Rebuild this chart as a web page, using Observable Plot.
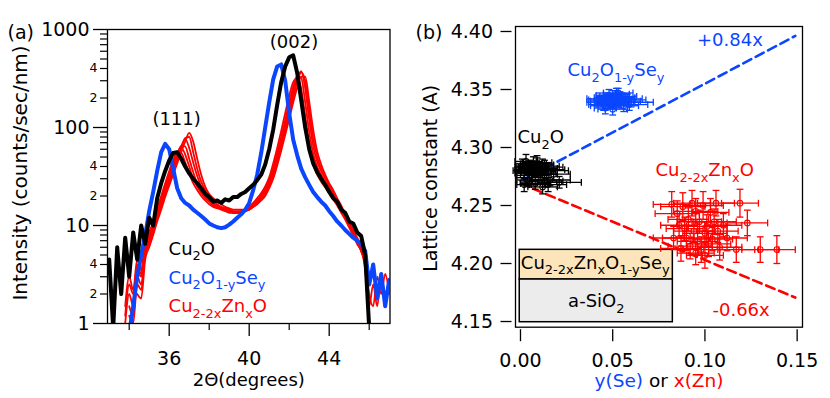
<!DOCTYPE html>
<html><head><meta charset="utf-8">
<script src="https://cdn.jsdelivr.net/npm/d3@7"></script>
<script src="https://cdn.jsdelivr.net/npm/@observablehq/plot@0.6"></script>
<style>
html,body{margin:0;padding:0;background:#fff;}
#wrap{position:relative;width:830px;height:398px;overflow:hidden;}
#pa{position:absolute;left:0;top:0;}
#pb{position:absolute;left:410px;top:0;}
</style></head><body>
<div id="wrap"><div id="pa"></div><div id="pb"></div></div>
<script>
// ---------- Panel (a): XRD scans ----------
const twoTheta = [33.0,33.2,33.4,33.6,33.8,34.0,34.2,34.4,34.6,34.8,35.0,35.2,35.4,35.6,35.8,36.0,36.2,36.4,36.6,36.8,37.0,37.2,37.4,37.6,37.8,38.0,38.2,38.4,38.6,38.8,39.0,39.2,39.4,39.6,39.8,40.0,40.2,40.4,40.6,40.8,41.0,41.2,41.4,41.6,41.8,42.0,42.2,42.4,42.6,42.8,43.0,43.2,43.4,43.6,43.8,44.0,44.2,44.4,44.6,44.8,45.0,45.2,45.4,45.6,45.8,46.0,46.2,46.4,46.6,46.8,47.0];
const cu2oScan = [4.5,0.9,6,2,7.5,3,8.5,4.5,10,6.5,12,10,19,27,36,46,55,56,48,40,34,30,27,24,21,19.5,17.5,18,17,18.5,18,19.5,19.5,21,22,24,26,29,33,42,60,95,170,290,420,520,545,360,190,100,60,43,35,30,26,22,19,17.5,14.5,13.5,11,10.5,8.5,7.8,5,0.9,null,null,null,null,null];
const seScan = [null,null,null,null,null,0.8,1.5,3,5,8,14,22,36,56,68,60,38,24,19,17,16,14.5,13.5,12.5,11.5,10.5,10,9.6,9.4,9.6,10.2,11,12,13,14.5,17,23,33,55,100,180,310,420,440,300,140,75,52,38,31,26,22,19.5,17.5,16,14,12.5,11,10,9,8.2,7.5,7,6.5,5.5,2.5,4,1.8,3.2,1.5,2.8];
const znScan1 = [null,null,null,null,1.5,3,2.2,4.5,3.5,7,8.5,11,15,20,27,36,47,56,55,44,34,27,23,20,18,16.5,15.5,15,14.5,14,13.5,13.5,13.5,14,14.5,15.5,17,19,21.5,25,31,43,62,92,140,210,290,320,200,100,58,42,33,28,24.5,21.5,18.5,16,13.5,11.5,9.5,8,6.5,5.5,3.5,0.8,null,null,null,null,null];
const znScan2 = [null,null,null,null,1.2,2.5,2,4,3.2,6.5,8,10,14,18.5,25,33,44,55,62,53,40,30,25,21.5,19,17.5,16,15.5,15,14.5,14,13.5,13.5,13.5,14,15,16.5,18,20.5,23.5,29,39,55,80,120,180,260,335,250,130,70,46,35,30,26,22.5,19.5,16.5,14,12,10,8.5,7,5.5,4,1.2,null,null,null,null,null];
const znScan3 = [null,null,null,null,1,2,1.5,3.5,3,6,7.5,9.5,13,17.5,23.5,31,41,53,65,64,48,35,27,23,20,18,16.5,15.5,15,14.5,14,13.5,13.5,13.5,14,15,16,17.5,20,22.5,27.5,36,51,73,108,160,240,330,320,180,90,54,40,33,27.5,23.5,20,17,14.5,12,10,8.5,7,5.5,4,1.5,2.5,1.5,3,2,2.8];
const znScan4 = [null,null,null,null,null,1.5,1.2,3,2.5,5.5,7,9,12,16.5,22,29,38,50,64,76,62,44,32,25,21,18.5,17,16,15,14.5,14,13.5,13.5,13.5,14,14.5,15.5,17,19,21.5,26,34,47,68,100,148,220,315,375,250,120,65,45,36,30,25,21,17.5,14.5,12,10,8,6.5,5.5,4,1,null,null,null,null,null];
const znScan5 = [null,null,null,null,null,1.2,1,2.5,2.2,5,6.5,8.5,11.5,15.5,21,27.5,36,47,61,78,80,56,38,28,23,20,18,16.5,15.5,15,14.5,14,14,14,14,14.5,15.5,17,18.5,21,25,32,44,63,92,135,200,290,365,300,150,78,50,38,31,26,22,18,15,12.5,10.5,8.5,7,5.8,4.2,1.2,null,null,null,null,null];
const znScan6 = [null,null,null,null,null,null,null,2,1.8,4.5,6,8,11,14.5,19.5,25.5,33,43,56,72,88,72,48,33,25,21,19,17.5,16.5,15.5,15,14.5,14.5,14.5,14.5,15,15.5,16.5,18,20,24,30,41,58,84,122,180,255,330,330,185,95,57,42,33,27,23,19,16,13,11,9,7.5,6,4.5,2,1.5,3,2,3.2,2];

const yMajorTicks = [1,10,100,1000];
const yMinorTicks = [2,3,4,5,6,7,8,9,20,30,40,50,60,70,80,90,200,300,400,500,600,700,800,900];
const yMinorLabeled = [2,4,20,40,200,400];
const xMajorTicks = [36,40,44];
const xMinorTicks = [34,38,42,46];

// ---------- Panel (b): lattice constants ----------
const cu2oX = [0.001,0.002,0.003,0.004,0.005,0.006,0.007,0.008,0.009,0.010,0.011,0.012,0.013,0.014,0.015,0.016,0.018,0.002,0.021,0.012,0.000,0.003,0.005,0.007,0.009,0.011,0.013,0.004,0.008,0.015];
const cu2oY = [4.284,4.278,4.288,4.281,4.283,4.276,4.286,4.280,4.287,4.282,4.279,4.284,4.271,4.281,4.268,4.272,4.277,4.268,4.270,4.266,4.280,4.283,4.279,4.282,4.285,4.277,4.283,4.272,4.269,4.280];
const cu2oXErr = [0.003,0.005,0.006,0.007,0.006,0.008,0.007,0.009,0.008,0.010,0.008,0.009,0.010,0.010,0.010,0.011,0.009,0.004,0.012,0.008,0.004,0.006,0.007,0.008,0.009,0.009,0.010,0.006,0.008,0.011];
const cu2oYErr = [0.006,0.005,0.006,0.005,0.006,0.005,0.006,0.005,0.006,0.006,0.005,0.006,0.005,0.005,0.006,0.005,0.005,0.006,0.005,0.006,0.006,0.005,0.006,0.005,0.006,0.005,0.006,0.005,0.005,0.006];

const seX = [0.042,0.044,0.045,0.046,0.047,0.048,0.049,0.050,0.051,0.052,0.053,0.054,0.055,0.056,0.058,0.060,0.043,0.046,0.048,0.050,0.052,0.054,0.056,0.057,0.059,0.045,0.050,0.053];
const seY = [4.339,4.341,4.337,4.334,4.343,4.340,4.338,4.344,4.341,4.346,4.342,4.339,4.343,4.340,4.341,4.339,4.342,4.336,4.345,4.338,4.340,4.344,4.336,4.342,4.337,4.340,4.333,4.347];
const seXErr = [0.006,0.007,0.008,0.006,0.007,0.008,0.007,0.009,0.008,0.007,0.009,0.008,0.007,0.009,0.010,0.012,0.007,0.008,0.007,0.009,0.008,0.009,0.008,0.009,0.010,0.007,0.008,0.008];
const seYErr = [0.004,0.004,0.005,0.005,0.004,0.005,0.004,0.005,0.004,0.005,0.004,0.005,0.004,0.004,0.005,0.004,0.005,0.004,0.005,0.004,0.005,0.004,0.005,0.004,0.005,0.004,0.005,0.004];

const znX = [0.082,0.083,0.085,0.086,0.087,0.088,0.089,0.090,0.091,0.092,0.093,0.094,0.095,0.095,0.096,0.097,0.098,0.099,0.100,0.100,0.101,0.102,0.103,0.104,0.105,0.106,0.107,0.108,0.110,0.112,0.117,0.119,0.123,0.130,0.139];
const znY = [4.251,4.222,4.243,4.233,4.213,4.249,4.230,4.222,4.238,4.215,4.252,4.228,4.245,4.209,4.219,4.236,4.212,4.250,4.226,4.207,4.232,4.217,4.244,4.221,4.236,4.252,4.228,4.214,4.233,4.222,4.212,4.252,4.235,4.212,4.212];
const znXErr = [0.010,0.011,0.012,0.010,0.011,0.012,0.010,0.013,0.011,0.012,0.010,0.011,0.012,0.010,0.011,0.012,0.010,0.011,0.012,0.010,0.011,0.012,0.010,0.011,0.012,0.010,0.011,0.012,0.010,0.011,0.010,0.010,0.011,0.010,0.010];
const znYErr = [0.011,0.010,0.011,0.010,0.011,0.012,0.010,0.011,0.010,0.011,0.011,0.010,0.011,0.010,0.011,0.010,0.011,0.012,0.010,0.011,0.010,0.011,0.012,0.010,0.011,0.011,0.010,0.011,0.010,0.011,0.011,0.012,0.011,0.011,0.012];

const seSlope = 0.84, seIntercept = 4.271;
const znSlope = -0.66, znIntercept = 4.269;
const fitRangeX = [0, 0.149];

const yTicksB = [4.15,4.20,4.25,4.30,4.35,4.40];
const xTicksB = [0.00,0.05,0.10,0.15];

// ---------- styling ----------
const BLUE = "#0b46ff", RED = "#ff0000", BLACK = "#000000";
const FONT = "DejaVu Sans";

// ---------- build tables ----------
const scanRows = (vals, name) => twoTheta.map((t, i) => ({t, v: vals[i], s: name}));
const redRows = [znScan1, znScan2, znScan3, znScan4, znScan5, znScan6].flatMap((v, k) => scanRows(v, "zn" + k));
const blueRows = scanRows(seScan, "se");
const blackRows = scanRows(cu2oScan, "cu2o");

const pts = (X, Y, XE, YE) => X.map((x, i) => ({x, y: Y[i], xe: XE[i], ye: YE[i]}));
const cu2oPts = pts(cu2oX, cu2oY, cu2oXErr, cu2oYErr);
const sePts = pts(seX, seY, seXErr, seYErr);
const znPts = pts(znX, znY, znXErr, znYErr);
const seFit = fitRangeX.map(x => ({x, y: seIntercept + seSlope * x}));
const znFit = fitRangeX.map(x => ({x, y: znIntercept + znSlope * x}));

const capV = {draw(ctx){ ctx.moveTo(0, -3.4); ctx.lineTo(0, 3.4); }};
const capH = {draw(ctx){ ctx.moveTo(-3.4, 0); ctx.lineTo(3.4, 0); }};

function errMarks(data, color) {
  return [
    Plot.link(data, {x1: d => d.x - d.xe, x2: d => d.x + d.xe, y1: "y", y2: "y", stroke: color, strokeWidth: 1.3}),
    Plot.link(data, {x1: "x", x2: "x", y1: d => d.y - d.ye, y2: d => d.y + d.ye, stroke: color, strokeWidth: 1.3}),
    Plot.dot(data, {x: d => d.x - d.xe, y: "y", symbol: capV, stroke: color, strokeWidth: 1.3}),
    Plot.dot(data, {x: d => d.x + d.xe, y: "y", symbol: capV, stroke: color, strokeWidth: 1.3}),
    Plot.dot(data, {x: "x", y: d => d.y - d.ye, symbol: capH, stroke: color, strokeWidth: 1.3}),
    Plot.dot(data, {x: "x", y: d => d.y + d.ye, symbol: capH, stroke: color, strokeWidth: 1.3}),
    Plot.dot(data, {x: "x", y: "y", r: 2.8, stroke: color, strokeWidth: 1.1, fill: "none"})
  ];
}

// annotations
const peakLabels = [
  {text: "(111)", x: 36.37, y: 122},
  {text: "(002)", x: 42.24, y: 734}
];
const legendA = [
  {text: "Cu_{2}O", x: 35.97, y: 5.72, c: BLACK},
  {text: "Cu_{2}O_{1-y}Se_{y}", x: 35.97, y: 2.91, c: BLUE},
  {text: "Cu_{2-2x}Zn_{x}O", x: 35.97, y: 1.49, c: RED}
];
const annB = [
  {text: "+0.84x", x: 0.0957, y: 4.3922, c: BLUE},
  {text: "Cu_{2}O_{1-y}Se_{y}", x: 0.0255, y: 4.3664, c: BLUE},
  {text: "Cu_{2}O", x: -0.0016, y: 4.3086, c: BLACK},
  {text: "Cu_{2-2x}Zn_{x}O", x: 0.0732, y: 4.2802, c: RED},
  {text: "-0.66x", x: 0.1041, y: 4.1595, c: RED}
];
const insetBoxes = [
  {x1: -0.0004, x2: 0.0826, y1: 4.1862, y2: 4.2118, fill: "#fce5bb"},
  {x1: -0.0004, x2: 0.0826, y1: 4.1494, y2: 4.1862, fill: "#ececec"}
];

const styleObj = {fontFamily: FONT, background: "transparent", color: "black", overflow: "visible"};

const chartA = Plot.plot({
  width: 415, height: 398,
  marginLeft: 107, marginRight: 25.5, marginTop: 29, marginBottom: 75,
  x: {domain: [32.915, 47.04], label: null},
  y: {type: "log", domain: [1, 1000], label: null},
  style: styleObj,
  marks: [
    Plot.line(redRows, {x: "t", y: "v", z: "s", stroke: RED, strokeWidth: 1.8, curve: "monotone-x", clip: true}),
    Plot.line(blueRows, {x: "t", y: "v", stroke: BLUE, strokeWidth: 4, curve: "linear", strokeLinejoin: "round", clip: true}),
    Plot.line(blackRows, {x: "t", y: "v", stroke: BLACK, strokeWidth: 4, curve: "linear", strokeLinejoin: "round", clip: true}),
    Plot.text(peakLabels, {x: "x", y: "y", text: "text", textAnchor: "middle", lineAnchor: "middle", fontSize: 18}),
    Plot.text(legendA, {x: "x", y: "y", text: "text", fill: "c", textAnchor: "start", lineAnchor: "middle", fontSize: 18}),
    Plot.frame({stroke: "#000", strokeWidth: 1.3}),
    Plot.axisY({ticks: yMajorTicks, tickSize: 14, tickPadding: 4, tickFormat: d => String(d), fontSize: 19, strokeWidth: 1.3, label: null}),
    Plot.axisY({ticks: yMinorTicks, tickSize: 7, tickFormat: () => "", strokeWidth: 1.2, label: null}),
    Plot.text(yMinorLabeled, {y: d => d, text: d => String(d).charAt(0), frameAnchor: "left", dx: -10, textAnchor: "end", lineAnchor: "middle", fontSize: 12.5}),
    Plot.axisX({ticks: xMajorTicks, tickSize: 13, tickPadding: 15, tickFormat: d => String(d), fontSize: 19, strokeWidth: 1.3, label: null}),
    Plot.axisX({ticks: xMinorTicks, tickSize: 7, tickFormat: () => "", strokeWidth: 1.2, label: null}),
    Plot.text(["Intensity (counts/sec/nm)"], {frameAnchor: "left", rotate: -90, dx: -86.5, dy: -3.5, fontSize: 20, textAnchor: "middle", lineAnchor: "middle"}),
    Plot.text(["2Θ(degrees)"], {frameAnchor: "bottom", dy: 57, fontSize: 18, lineAnchor: "middle"}),
    Plot.text(["(a)"], {frameAnchor: "top-left", dx: -100, dy: 3.5, fontSize: 19, textAnchor: "start", lineAnchor: "middle"})
  ]
});

const chartB = Plot.plot({
  width: 420, height: 398,
  marginLeft: 105, marginRight: 28, marginTop: 26, marginBottom: 71.3,
  x: {domain: [-0.0027, 0.1529], label: null},
  y: {domain: [4.1451, 4.4043], label: null},
  style: styleObj,
  marks: [
    Plot.line(seFit, {x: "x", y: "y", stroke: BLUE, strokeWidth: 2.6, strokeDasharray: "9,5"}),
    Plot.line(znFit, {x: "x", y: "y", stroke: RED, strokeWidth: 2.6, strokeDasharray: "9,5"}),
    Plot.rect(insetBoxes, {x1: "x1", x2: "x2", y1: "y1", y2: "y2", fill: "fill", stroke: "#000", strokeWidth: 1.5}),
    Plot.text(["Cu_{2-2x}Zn_{x}O_{1-y}Se_{y}"], {x: [0.0002], y: [4.2004], textAnchor: "start", lineAnchor: "middle", fontSize: 18}),
    Plot.text(["a-SiO_{2}"], {x: [0.0411], y: [4.1673], textAnchor: "middle", lineAnchor: "middle", fontSize: 18}),
    ...errMarks(znPts, RED),
    ...errMarks(sePts, BLUE),
    ...errMarks(cu2oPts, BLACK),
    Plot.text(annB, {x: "x", y: "y", text: "text", fill: "c", textAnchor: "start", lineAnchor: "middle", fontSize: 18}),
    Plot.frame({stroke: "#000", strokeWidth: 1.3}),
    Plot.axisY({ticks: yTicksB, tickSize: 11, tickPadding: 8, dx: -3.5, tickFormat: ".2f", fontSize: 19, strokeWidth: 1.3, label: null}),
    Plot.axisX({ticks: xTicksB, tickSize: 12, tickPadding: 12, dy: 2.5, tickFormat: ".2f", fontSize: 19, strokeWidth: 1.3, label: null}),
    Plot.text(["Lattice constant (A)"], {frameAnchor: "left", rotate: -90, dx: -85, dy: 1.5, fontSize: 19, textAnchor: "middle", lineAnchor: "middle"}),
    Plot.text(["[" + BLUE + "|y(Se)] or [" + RED + "|x(Zn)]"], {frameAnchor: "bottom", dy: 54, fontSize: 18.5, lineAnchor: "middle"}),
    Plot.text(["(b)"], {frameAnchor: "top-left", dx: -100, dy: 6, fontSize: 19, textAnchor: "start", lineAnchor: "middle"})
  ]
});

document.getElementById("pa").appendChild(chartA);
document.getElementById("pb").appendChild(chartB);

// rich text: _{sub} and [color|text]
function richify(svg) {
  const ns = "http://www.w3.org/2000/svg";
  svg.querySelectorAll("text").forEach(t => {
    const s = t.textContent;
    if (!/_\{|\[[^|\]]+\|/.test(s)) return;
    const fs = parseFloat(getComputedStyle(t).fontSize) || 18;
    while (t.firstChild) t.removeChild(t.firstChild);
    const re = /_\{([^}]*)\}|\[([^|\]]+)\|([^\]]*)\]/g;
    let last = 0, m, shifted = false;
    const add = (txt, sub, color) => {
      const sp = document.createElementNS(ns, "tspan");
      sp.textContent = txt;
      if (sub) {
        sp.setAttribute("font-size", (fs * 0.72).toFixed(2));
        if (!shifted) { sp.setAttribute("dy", (fs * 0.3).toFixed(2)); shifted = true; }
      } else if (shifted) { sp.setAttribute("dy", (-fs * 0.3).toFixed(2)); shifted = false; }
      if (color) sp.setAttribute("fill", color);
      t.appendChild(sp);
    };
    while ((m = re.exec(s))) {
      if (m.index > last) add(s.slice(last, m.index), false);
      if (m[1] !== undefined) add(m[1], true); else add(m[3], false, m[2]);
      last = re.lastIndex;
    }
    if (last < s.length) add(s.slice(last), false);
  });
}
richify(chartA);
richify(chartB);
</script>
</body></html>
